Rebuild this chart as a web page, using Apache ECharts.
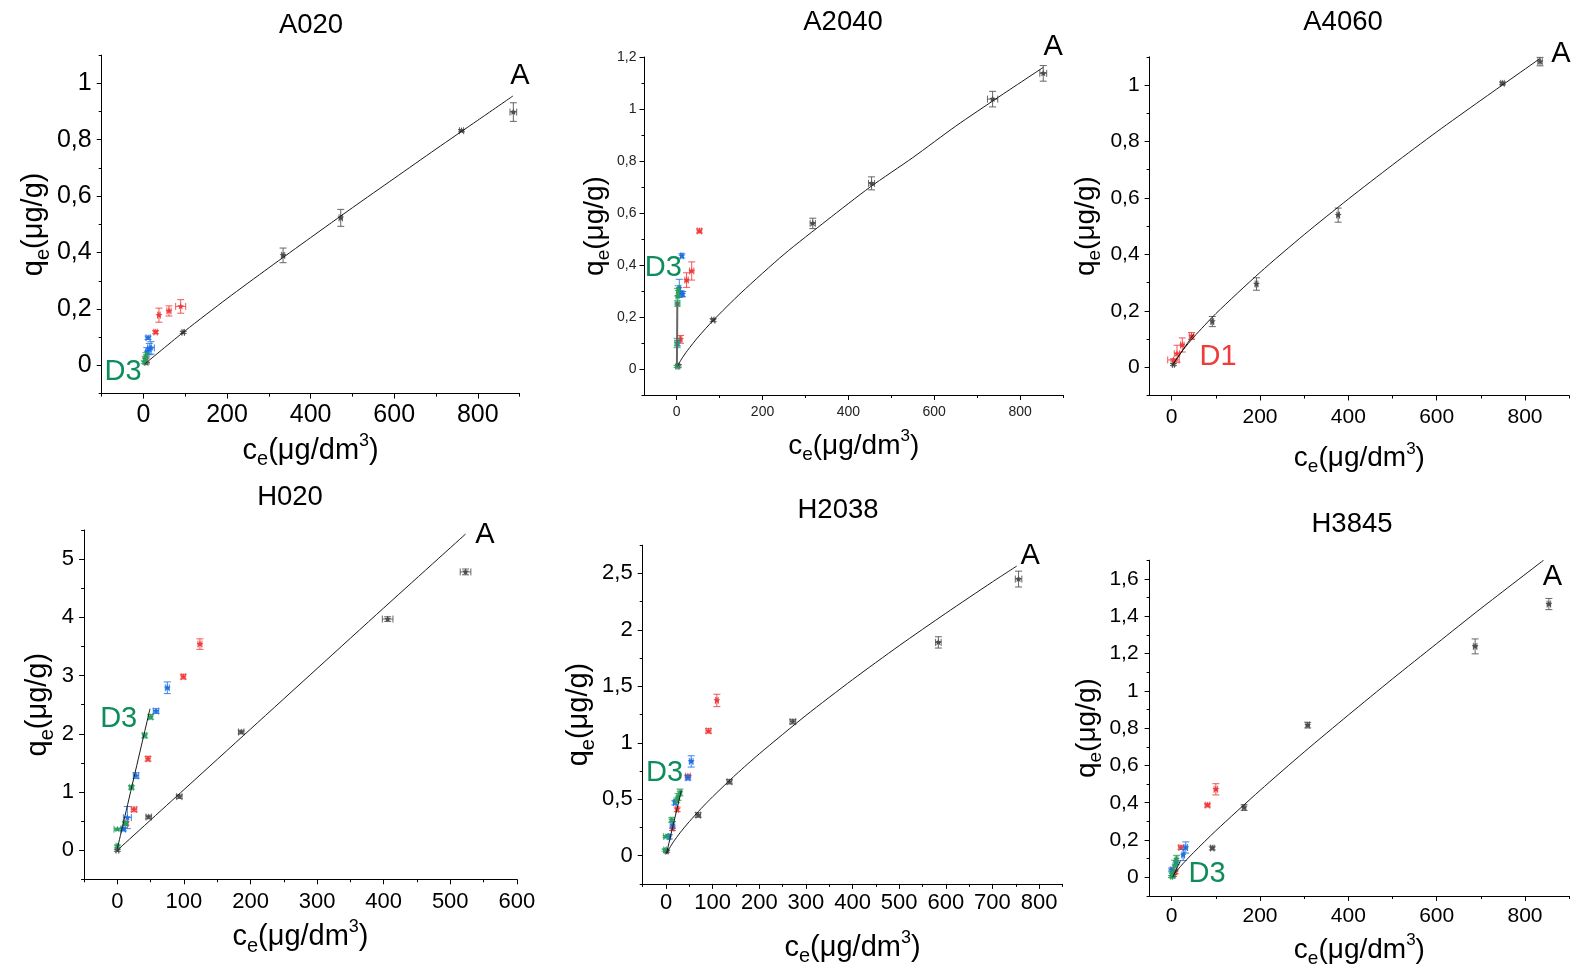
<!DOCTYPE html>
<html><head><meta charset="utf-8">
<script src="https://cdn.jsdelivr.net/npm/echarts@6/dist/echarts.min.js"></script>
<style>html,body{margin:0;padding:0;background:#fff}#c{width:1574px;height:969px}</style>
</head><body><div id="c"></div>
<script>
// ---------------- DATA (x, y, xErr, yErr) ----------------
const titles = ['A020', 'A2040', 'A4060', 'H020', 'H2038', 'H3845'];

// A020
const a020Grey  = [[7,0.008,0,0.003],[95,0.117,3,0.004],[334,0.39,4,0.026],[472,0.523,4,0.03],[761,0.832,5,0.004],[885,0.898,8,0.033]];
const a020Red   = [[6,0.02,2,0.008],[29,0.118,4,0.006],[37,0.178,3,0.025],[61,0.193,5,0.018],[89,0.209,12,0.024]];
const a020Blue  = [[8,0.048,3,0.015],[11,0.098,5,0.006],[14,0.058,4,0.02],[18,0.062,8,0.022]];
const a020Green = [[2,0.012,1,0.006],[4,0.022,1,0.01],[6,0.035,2,0.01]];
const a020FitAx = [3,100,200,300,400,500,600,700,800,884];
const a020FitAy = [0.005,0.123,0.237,0.346,0.453,0.559,0.663,0.767,0.869,0.955];

// A2040
const a2040Grey  = [[4,0.012,3,0.005],[85,0.188,4,0.006],[317,0.56,6,0.02],[454,0.714,7,0.025],[736,1.038,12,0.03],[854,1.137,8,0.03]];
const a2040Red   = [[9,0.114,3,0.015],[23,0.342,4,0.028],[35,0.377,5,0.035],[53,0.531,5,0.008]];
const a2040Blue  = [[2,0.099,2,0.01],[6,0.31,3,0.035],[10,0.29,4,0.01],[14,0.288,3,0.01],[12,0.435,3,0.008]];
const a2040Green = [[1,0.01,3,0.004],[1,0.1,5,0.018],[2,0.252,4,0.01],[2,0.28,3,0.03],[3,0.30,3,0.02]];
const a2040FitAx = [2,10,25,50,85,150,250,350,450,550,650,750,854];
const a2040FitAy = [0.01,0.035,0.071,0.123,0.187,0.293,0.441,0.572,0.699,0.813,0.934,1.046,1.16];
const a2040FitDx = [0.5,1.5];
const a2040FitDy = [0.01,0.26];

// A4060
const a4060Grey = [[4,0.01,2,0.004],[92,0.162,3,0.018],[192,0.295,3,0.022],[377,0.539,3,0.025],[749,1.006,4,0.005],[834,1.083,5,0.015]];
const a4060Red  = [[4,0.026,13,0.004],[12,0.048,6,0.03],[24,0.079,4,0.025],[45,0.111,5,0.012]];
const a4060FitAx = [4,25,50,100,200,300,400,500,600,700,834];
const a4060FitAy = [0.013,0.06,0.107,0.19,0.336,0.47,0.596,0.717,0.834,0.946,1.094];
const a4060FitDx = [2,50];
const a4060FitDy = [0.008,0.118];

// H020
const h020Grey  = [[0,0.0,2,0.02],[47,0.57,4,0.03],[93,0.92,4,0.03],[186,2.03,4,0.03],[406,3.97,8,0.04],[523,4.78,8,0.05]];
const h020Green = [[0,0.07,2,0.02],[0,0.36,5,0.02],[12,0.46,3,0.03],[21,1.08,3,0.03],[41,1.97,3,0.04],[50,2.29,3,0.04]];
const h020Blue  = [[9,0.36,3,0.03],[15,0.56,6,0.19],[28,1.28,4,0.05],[58,2.39,4,0.04],[75,2.79,3,0.1]];
const h020Red   = [[13,0.46,3,0.03],[25,0.7,4,0.04],[46,1.57,3,0.04],[99,2.98,3,0.04],[124,3.54,3,0.09]];
const h020FitAx = [0,100,200,300,400,523];
const h020FitAy = [0.0,1.04,2.08,3.12,4.16,5.43];
const h020FitDx = [0,49];
const h020FitDy = [0.03,2.43];

// H2038
const h2038Grey  = [[1.4,0.04,3,0.01],[69,0.36,5,0.02],[136,0.655,5,0.02],[272,1.187,6,0.02],[584,1.889,6,0.05],[756,2.45,7,0.07]];
const h2038Green = [[-2,0.05,3,0.01],[0,0.17,5,0.01],[12,0.316,3,0.02],[23,0.49,3,0.02],[26,0.52,3,0.03],[30,0.56,4,0.03]];
const h2038Blue  = [[7,0.168,3,0.02],[14,0.272,3,0.03],[19,0.47,3,0.02],[47,0.69,4,0.02],[54,0.835,4,0.05]];
const h2038Red   = [[14,0.243,3,0.02],[24,0.41,3,0.02],[47,0.705,5,0.01],[91,1.105,5,0.02],[109,1.375,3,0.055]];
const h2038FitAx = [1,5,15,30,50,75,100,150,200,300,400,500,600,700,752];
const h2038FitAy = [0.014,0.049,0.117,0.202,0.302,0.416,0.522,0.719,0.902,1.242,1.559,1.86,2.147,2.425,2.565];
const h2038FitDx = [1,33];
const h2038FitDy = [0.02,0.58];

// H3845
const h3845Grey  = [[4,0.01,3,0.005],[92,0.157,4,0.01],[164,0.374,4,0.015],[308,0.816,4,0.015],[687,1.238,4,0.04],[854,1.465,4,0.03]];
const h3845Red   = [[8,0.03,4,0.01],[21,0.16,5,0.01],[81,0.387,5,0.01],[100,0.472,4,0.03]];
const h3845Blue  = [[0,0.04,3,0.01],[10,0.08,3,0.01],[26,0.12,3,0.03],[32,0.16,4,0.03]];
const h3845Green = [[0,0.005,2,0.005],[0,0.018,3,0.02],[7,0.062,4,0.03],[11,0.098,3,0.02]];
const h3845FitAx = [5,25,50,100,200,300,400,500,600,700,842];
const h3845FitAy = [0.017,0.072,0.134,0.25,0.466,0.672,0.87,1.064,1.253,1.441,1.7];
const h3845FitDx = [2,20];
const h3845FitDy = [0.0,0.09];

// annotation labels [x, y, text]
const a020Notes  = [[901,1.026,'A'],[-49,-0.025,'D3']];
const a2040Notes = [[877,1.238,'A'],[-31,0.39,'D3']];
const a4060Notes = [[881,1.11,'A'],[105,0.038,'D1']];
const h020Notes  = [[552,5.41,'A'],[2,2.25,'D3']];
const h2038Notes = [[781,2.65,'A'],[-3,0.73,'D3']];
const h3845Notes = [[862,1.609,'A'],[80,0.018,'D3']];

// axis ranges and ticks
const a020X = {min:-100,max:900,labels:[0,200,400,600,800],minor:[-100,100,300,500,700,900]};
const a020Y = {min:-0.1,max:1.1,labels:[0,0.2,0.4,0.6,0.8,1],minor:[-0.1,0.1,0.3,0.5,0.7,0.9,1.1]};
const a2040X = {min:-75,max:900,labels:[0,200,400,600,800],minor:[100,300,500,700,900]};
const a2040Y = {min:-0.1,max:1.2,labels:[0,0.2,0.4,0.6,0.8,1,1.2],minor:[-0.1,0.1,0.3,0.5,0.7,0.9,1.1]};
const a4060X = {min:-50,max:900,labels:[0,200,400,600,800],minor:[100,300,500,700,900]};
const a4060Y = {min:-0.1,max:1.1,labels:[0,0.2,0.4,0.6,0.8,1],minor:[-0.1,0.1,0.3,0.5,0.7,0.9,1.1]};
const h020X = {min:-50,max:600,labels:[0,100,200,300,400,500,600],minor:[-50,50,150,250,350,450,550]};
const h020Y = {min:-0.5,max:5.5,labels:[0,1,2,3,4,5],minor:[-0.5,0.5,1.5,2.5,3.5,4.5,5.5]};
const h2038X = {min:-50,max:850,labels:[0,100,200,300,400,500,600,700,800],minor:[-50,50,150,250,350,450,550,650,750,850]};
const h2038Y = {min:-0.25,max:2.75,labels:[0,0.5,1,1.5,2,2.5],minor:[-0.25,0.25,0.75,1.25,1.75,2.25,2.75]};
const h3845X = {min:-50,max:900,labels:[0,200,400,600,800],minor:[100,300,500,700,900]};
const h3845Y = {min:-0.1,max:1.7,labels:[0,0.2,0.4,0.6,0.8,1,1.2,1.4,1.6],minor:[-0.1,0.1,0.3,0.5,0.7,0.9,1.1,1.3,1.5,1.7]};

// ---------------- LAYOUT / STYLE ----------------
const FONT = '"Liberation Sans", Arial, Helvetica, sans-serif';
const C = {grey:'#4d4d4d', red:'#ef3b3b', blue:'#1f6fe3', green:'#27a05e', fit:'#1a1a1a', d3:'#0f8c5c', d1:'#ef3b3b'};
const zip = (xs, ys) => xs.map((x, i) => [x, ys[i]]);

const panels = [
  {grid:{left:101.7,top:55.1,width:417.9,height:338.5}, title:[311,25], X:a020X, Y:a020Y, tick:25, nm:29, ygap:44, xgap:38, ym:10, xm:9, lab:'#000',
   pts:[[a020Grey,C.grey],[a020Red,C.red],[a020Blue,C.blue],[a020Green,C.green]], fits:[[a020FitAx,a020FitAy,C.fit,1]], notes:a020Notes},
  {grid:{left:644.5,top:57,width:418.5,height:338}, title:[843,22], X:a2040X, Y:a2040Y, tick:14, nm:28, ygap:31, xgap:33, ym:8, xm:10, lab:'#222',
   pts:[[a2040Grey,C.grey],[a2040Red,C.red],[a2040Blue,C.blue],[a2040Green,C.green]], fits:[[a2040FitAx,a2040FitAy,C.fit,1],[a2040FitDx,a2040FitDy,'#666',2]], notes:a2040Notes},
  {grid:{left:1149.6,top:56.8,width:419.6,height:338.7}, title:[1343,22], X:a4060X, Y:a4060Y, tick:21, nm:28, ygap:45, xgap:45, ym:10, xm:11, lab:'#000',
   pts:[[a4060Grey,C.grey],[a4060Red,C.red]], fits:[[a4060FitAx,a4060FitAy,C.fit,1],[a4060FitDx,a4060FitDy,C.fit,1]], notes:a4060Notes},
  {grid:{left:84.1,top:530,width:432.7,height:349.3}, title:[290,497], X:h020X, Y:h020Y, tick:22, nm:29, ygap:27, xgap:39, ym:10, xm:12, lab:'#000',
   pts:[[h020Grey,C.grey],[h020Red,C.red],[h020Blue,C.blue],[h020Green,C.green]], fits:[[h020FitAx,h020FitAy,C.fit,1],[h020FitDx,h020FitDy,C.fit,1]], notes:h020Notes},
  {grid:{left:642.7,top:545.2,width:419.7,height:338.7}, title:[838,510], X:h2038X, Y:h2038Y, tick:22, nm:29, ygap:40, xgap:45, ym:10, xm:8, lab:'#000',
   pts:[[h2038Grey,C.grey],[h2038Red,C.red],[h2038Blue,C.blue],[h2038Green,C.green]], fits:[[h2038FitAx,h2038FitAy,C.fit,1],[h2038FitDx,h2038FitDy,C.fit,1]], notes:h2038Notes},
  {grid:{left:1149.6,top:560.2,width:419.6,height:336.8}, title:[1352,524], X:h3845X, Y:h3845Y, tick:21, nm:28, ygap:42, xgap:36, ym:11, xm:10, lab:'#000',
   pts:[[h3845Grey,C.grey],[h3845Red,C.red],[h3845Blue,C.blue],[h3845Green,C.green]], fits:[[h3845FitAx,h3845FitAy,C.fit,1],[h3845FitDx,h3845FitDy,C.fit,1]], notes:h3845Notes}
];

const fmt = v => String(Math.round(v * 100) / 100).replace('.', ',');

function richStyle(F) {
  return {
    fontFamily: FONT, color: '#000',
    rich: {
      m: {fontSize: F, lineHeight: Math.round(F * 1.3), verticalAlign: 'middle', fontFamily: FONT, color: '#000'},
      s: {fontSize: Math.round(F * 0.68), lineHeight: Math.round(F * 0.68), verticalAlign: 'bottom', fontFamily: FONT, color: '#000'},
      p: {fontSize: Math.round(F * 0.62), lineHeight: Math.round(F * 0.62), verticalAlign: 'top', fontFamily: FONT, color: '#000'}
    }
  };
}

function starPts(cx, cy, R, r) {
  const pts = [];
  for (let i = 0; i < 10; i++) {
    const a = -Math.PI / 2 + i * Math.PI / 5;
    const rr = i % 2 ? r : R;
    pts.push([cx + rr * Math.cos(a), cy + rr * Math.sin(a)]);
  }
  return pts;
}

function renderErr(params, api) {
  const x = api.value(0), y = api.value(1), xe = api.value(2), ye = api.value(3);
  const c = api.coord([x, y]);
  const col = api.visual('color');
  const st = {stroke: col, lineWidth: 1, fill: null, opacity: 0.85};
  const ch = [];
  const cap = 3.5;
  if (ye > 0) {
    const t = api.coord([x, y + ye])[1], b = api.coord([x, y - ye])[1];
    ch.push({type: 'line', shape: {x1: c[0], y1: t, x2: c[0], y2: b}, style: st});
    ch.push({type: 'line', shape: {x1: c[0] - cap, y1: t, x2: c[0] + cap, y2: t}, style: st});
    ch.push({type: 'line', shape: {x1: c[0] - cap, y1: b, x2: c[0] + cap, y2: b}, style: st});
  }
  if (xe > 0) {
    const l = api.coord([x - xe, y])[0], r = api.coord([x + xe, y])[0];
    ch.push({type: 'line', shape: {x1: l, y1: c[1], x2: r, y2: c[1]}, style: st});
    ch.push({type: 'line', shape: {x1: l, y1: c[1] - cap, x2: l, y2: c[1] + cap}, style: st});
    ch.push({type: 'line', shape: {x1: r, y1: c[1] - cap, x2: r, y2: c[1] + cap}, style: st});
  }
  ch.push({type: 'polygon', shape: {points: starPts(c[0], c[1], 3.6, 1.6)}, style: {fill: col}});
  return {type: 'group', children: ch};
}

const option = {
  animation: false,
  backgroundColor: '#fff',
  textStyle: {fontFamily: FONT},
  grid: [], xAxis: [], yAxis: [], series: [], graphic: []
};

panels.forEach((p, i) => {
  option.grid.push(Object.assign({containLabel: false}, p.grid));
  const xi = option.xAxis.length, yi = option.yAxis.length;
  const axisLine = {show: true, onZero: false, lineStyle: {color: '#000', width: 1}};
  option.xAxis.push({
    gridIndex: i, type: 'value', position: 'bottom', min: p.X.min, max: p.X.max,
    axisLine, splitLine: {show: false},
    axisTick: {show: true, length: 5, customValues: p.X.labels, lineStyle: {color: '#000'}},
    axisLabel: {show: true, customValues: p.X.labels, formatter: fmt, fontSize: p.tick, color: p.lab, margin: p.xm, fontFamily: FONT},
    name: '{m|c}{s|e}{m|(μg/dm}{p|3}{m|)}', nameLocation: 'middle', nameGap: p.xgap,
    nameTextStyle: richStyle(p.nm)
  });
  option.xAxis.push({
    gridIndex: i, type: 'value', position: 'bottom', min: p.X.min, max: p.X.max,
    axisLine: {show: false, onZero: false}, splitLine: {show: false}, axisLabel: {show: false},
    axisTick: {show: true, length: 3, customValues: p.X.minor, lineStyle: {color: '#000'}}
  });
  option.yAxis.push({
    gridIndex: i, type: 'value', position: 'left', min: p.Y.min, max: p.Y.max,
    axisLine, splitLine: {show: false},
    axisTick: {show: true, length: 5, customValues: p.Y.labels, lineStyle: {color: '#000'}},
    axisLabel: {show: true, customValues: p.Y.labels, formatter: fmt, fontSize: p.tick, color: p.lab, margin: p.ym, fontFamily: FONT},
    name: '{m|q}{s|e}{m|(μg/g)}', nameLocation: 'middle', nameGap: p.ygap,
    nameTextStyle: richStyle(p.nm)
  });
  option.yAxis.push({
    gridIndex: i, type: 'value', position: 'left', min: p.Y.min, max: p.Y.max,
    axisLine: {show: false, onZero: false}, splitLine: {show: false}, axisLabel: {show: false},
    axisTick: {show: true, length: 3, customValues: p.Y.minor, lineStyle: {color: '#000'}}
  });
  p.pts.forEach(([data, col]) => {
    option.series.push({
      type: 'custom', xAxisIndex: xi, yAxisIndex: yi, renderItem: renderErr,
      dimensions: ['x', 'y', 'xe', 'ye'], encode: {x: 0, y: 1},
      itemStyle: {color: col}, data: data, silent: true, z: 2
    });
  });
  p.fits.forEach(([xs, ys, col, w]) => {
    option.series.push({
      type: 'line', xAxisIndex: xi, yAxisIndex: yi, data: zip(xs, ys), showSymbol: false, symbol: 'none',
      smooth: 0.25, lineStyle: {color: col, width: w}, silent: true, z: 3
    });
  });
  option.series.push({
    type: 'scatter', xAxisIndex: xi, yAxisIndex: yi, symbolSize: 1,
    itemStyle: {color: 'rgba(0,0,0,0)'}, silent: true, z: 4, clip: false,
    data: p.notes.map(n => ({
      value: [n[0], n[1]], name: n[2],
      label: {color: n[2] === 'A' ? '#000' : (n[2] === 'D1' ? C.d1 : C.d3)}
    })),
    label: {show: true, position: 'inside', formatter: '{b}', fontSize: 29, fontFamily: FONT, opacity: 1}
  });
  option.graphic.push({
    type: 'text', x: p.title[0], y: p.title[1], silent: true,
    style: {text: titles[i], align: 'center', verticalAlign: 'middle', fontSize: 27.5, fontFamily: FONT, fill: '#000'}
  });
});

const chart = echarts.init(document.getElementById('c'), null, {renderer: 'canvas'});
chart.setOption(option);
</script>
</body></html>
